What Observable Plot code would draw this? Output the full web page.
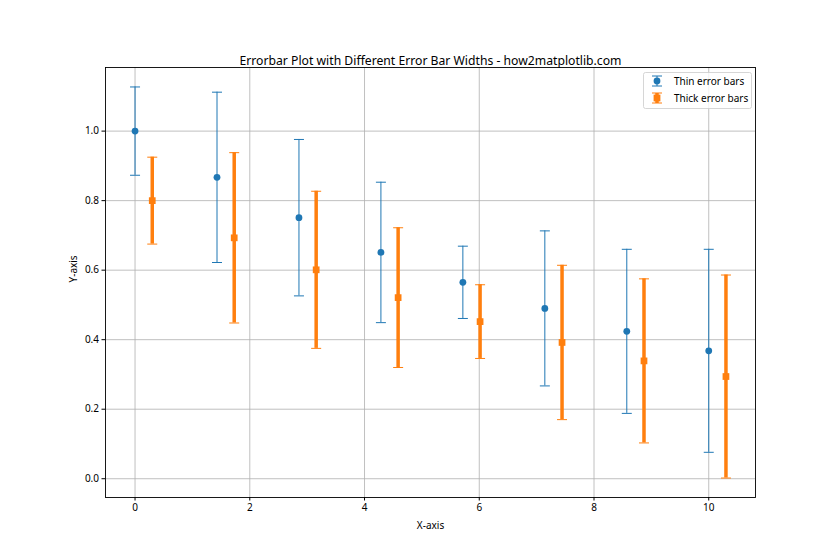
<!DOCTYPE html>
<html>
<head>
<meta charset="utf-8">
<script src="https://cdn.jsdelivr.net/npm/d3@7"></script>
<script src="https://cdn.jsdelivr.net/npm/@observablehq/plot@0.6"></script>
<style>
  body { margin: 0; background: #fff; }
  #chart svg { display: block; }
</style>
</head>
<body>
<div id="chart"></div>
<script>
const title = "Errorbar Plot with Different Error Bar Widths - how2matplotlib.com";
const xThin = [0, 1.4286, 2.8571, 4.2857, 5.7143, 7.1429, 8.5714, 10];
const yThin = [1.0, 0.867, 0.751, 0.651, 0.565, 0.490, 0.424, 0.368];
const errThin = [0.127, 0.245, 0.225, 0.202, 0.104, 0.223, 0.236, 0.292];
const xThick = [0.3, 1.7286, 3.1571, 4.5857, 6.0143, 7.4429, 8.8714, 10.3];
const yThick = [0.8, 0.693, 0.601, 0.521, 0.452, 0.392, 0.339, 0.294];
const errThick = [0.125, 0.245, 0.226, 0.201, 0.106, 0.222, 0.236, 0.292];
const xTicks = [0, 2, 4, 6, 8, 10];
const yTicks = [0.0, 0.2, 0.4, 0.6, 0.8, 1.0];
const seriesNames = ["Thin error bars", "Thick error bars"];

const BLUE = "#1f77b4", ORANGE = "#ff7f0e";
const FONT = "'Noto Sans', sans-serif";

const thin = xThin.map((x, i) => ({x, y: yThin[i], lo: yThin[i] - errThin[i], hi: yThin[i] + errThin[i]}));
const thick = xThick.map((x, i) => ({x, y: yThick[i], lo: yThick[i] - errThick[i], hi: yThick[i] + errThick[i]}));

const capSymbol = {
  draw(context, size) {
    const r = Math.sqrt(size / Math.PI);
    context.moveTo(-r, 0);
    context.lineTo(r, 0);
  }
};

const chart = Plot.plot({
  width: 840,
  height: 560,
  marginLeft: 105,
  marginRight: 85,
  marginTop: 67,
  marginBottom: 63,
  style: {fontFamily: FONT, fontSize: "10px", color: "#000", background: "#fff"},
  x: {domain: [-0.515, 10.815]},
  y: {domain: [-0.054, 1.183]},
  marks: [
    Plot.gridX(xTicks, {stroke: "#b0b0b0", strokeOpacity: 1, strokeWidth: 0.8}),
    Plot.gridY(yTicks, {stroke: "#b0b0b0", strokeOpacity: 1, strokeWidth: 0.8}),
    Plot.axisX(xTicks, {tickSize: 3.5, tickPadding: 3, label: null, fontSize: 10, tickFormat: d => String(d)}),
    Plot.axisY(yTicks, {tickSize: 3.5, tickPadding: 3, label: null, fontSize: 10, tickFormat: d => d.toFixed(1)}),
    // thin
    Plot.ruleX(thin, {x: "x", y1: "lo", y2: "hi", stroke: BLUE, strokeWidth: 1}),
    Plot.dot(thin, {x: "x", y: "lo", symbol: capSymbol, r: 5, stroke: BLUE, strokeWidth: 1, fill: "none"}),
    Plot.dot(thin, {x: "x", y: "hi", symbol: capSymbol, r: 5, stroke: BLUE, strokeWidth: 1, fill: "none"}),
    Plot.dot(thin, {x: "x", y: "y", r: 3.4, fill: BLUE, stroke: "none"}),
    // thick
    Plot.ruleX(thick, {x: "x", y1: "lo", y2: "hi", stroke: ORANGE, strokeWidth: 3.5}),
    Plot.dot(thick, {x: "x", y: "lo", symbol: capSymbol, r: 5, stroke: ORANGE, strokeWidth: 1, fill: "none"}),
    Plot.dot(thick, {x: "x", y: "hi", symbol: capSymbol, r: 5, stroke: ORANGE, strokeWidth: 1, fill: "none"}),
    Plot.dot(thick, {x: "x", y: "y", r: 3.8, symbol: "square", fill: ORANGE, stroke: "none"}),
    Plot.frame({stroke: "#000", strokeWidth: 0.9}),
    Plot.text([title], {frameAnchor: "top", dy: -11, fontSize: 12.2, fill: "#000"}),
    Plot.text(["X-axis"], {frameAnchor: "bottom", dy: 31, fontSize: 10, fill: "#000"}),
    Plot.text(["Y-axis"], {frameAnchor: "left", dx: -32, rotate: -90, fontSize: 10, fill: "#000"})
  ]
});

document.getElementById("chart").appendChild(chart);

// Legend (upper right, inside axes)
const svg = d3.select(chart);
const lg = svg.append("g").attr("font-family", FONT).attr("font-size", 10).attr("text-anchor", "start");
lg.append("rect").attr("x", 643.5).attr("y", 72.5).attr("width", 108).attr("height", 36).attr("rx", 2)
  .attr("fill", "#fff").attr("fill-opacity", 0.8).attr("stroke", "#cccccc").attr("stroke-width", 0.8);
const rows = [
  {name: seriesNames[0], color: BLUE, sw: 1, sq: false, y: 81},
  {name: seriesNames[1], color: ORANGE, sw: 3.5, sq: true, y: 98}
];
rows.forEach(r => {
  const cx = 657;
  lg.append("line").attr("x1", cx).attr("x2", cx).attr("y1", r.y - 5).attr("y2", r.y + 5).attr("stroke", r.color).attr("stroke-width", r.sw);
  lg.append("line").attr("x1", cx - 5).attr("x2", cx + 5).attr("y1", r.y - 5).attr("y2", r.y - 5).attr("stroke", r.color).attr("stroke-width", 1);
  lg.append("line").attr("x1", cx - 5).attr("x2", cx + 5).attr("y1", r.y + 5).attr("y2", r.y + 5).attr("stroke", r.color).attr("stroke-width", 1);
  if (r.sq) lg.append("rect").attr("x", cx - 3.4).attr("y", r.y - 3.4).attr("width", 6.8).attr("height", 6.8).attr("fill", r.color);
  else lg.append("circle").attr("cx", cx).attr("cy", r.y).attr("r", 3.4).attr("fill", r.color);
  lg.append("text").attr("x", 674).attr("y", r.y).attr("dy", "0.35em").attr("text-anchor", "start").attr("fill", "#000").text(r.name);
});
</script>
</body>
</html>
